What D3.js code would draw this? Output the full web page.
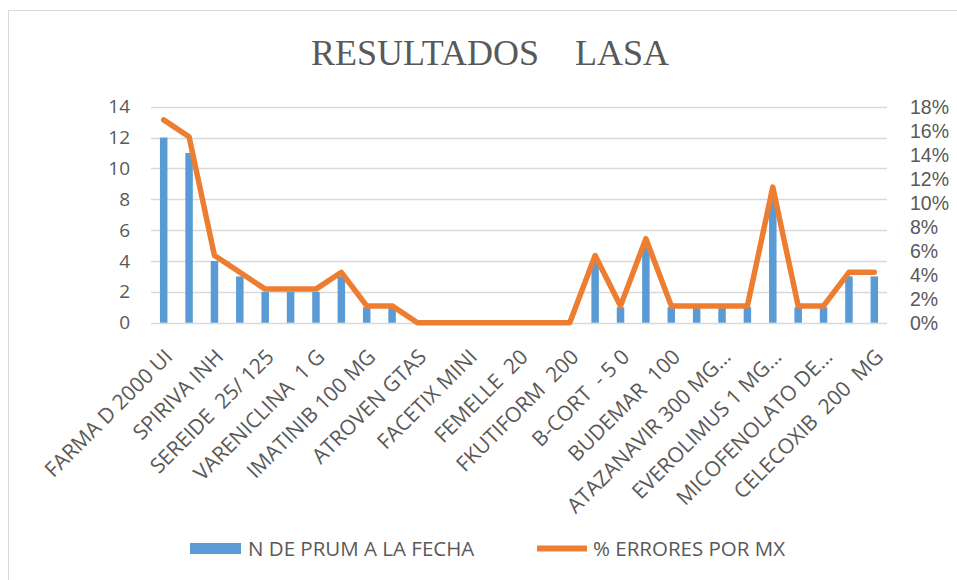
<!DOCTYPE html>
<html>
    <head>
        <title>Resultados LASA</title>
        <meta charset="UTF-8">
        <script type="text/javascript" src="https://cdn.jsdelivr.net/npm/d3@7"></script>
        <style type="text/css">
            body { margin: 0; background: #fff; }
            text { font-family: "Open Sans", sans-serif; fill: #595959; white-space: pre; }
        </style>
    </head>
    <body>
        <div id="chart"></div>

        <script type="text/javascript">

            var svgW = 957;
            var svgH = 580;

            // 29 medicines; only every other name is printed on the axis
            var tickLabels = ["FARMA D 2000 UI", "SPIRIVA INH", "SEREIDE  25/ 125", "VARENICLINA  1 G",
                "IMATINIB 100 MG", "ATROVEN GTAS", "FACETIX MINI", "FEMELLE  20", "FKUTIFORM  200",
                "B-CORT  - 5 0", "BUDEMAR  100", "ATAZANAVIR 300 MG…", "EVEROLIMUS 1 MG…",
                "MICOFENOLATO DE…", "CELECOXIB  200  MG"];

            // N DE PRUM A LA FECHA (left axis)
            var prumCount = [12, 11, 4, 3, 2, 2, 2, 3, 1, 1, 0, 0, 0, 0, 0, 0, 0,
                4, 1, 5, 1, 1, 1, 1, 8, 1, 1, 3, 3];

            // % ERRORES POR MX (right axis)
            var errorPct = [16.9, 15.5, 5.6, 4.2, 2.8, 2.8, 2.8, 4.2, 1.4, 1.4, 0, 0, 0, 0, 0, 0, 0,
                5.6, 1.4, 7.0, 1.4, 1.4, 1.4, 1.4, 11.3, 1.4, 1.4, 4.2, 4.2];

            var leftTicks = [0, 2, 4, 6, 8, 10, 12, 14];
            var rightTicks = [0, 2, 4, 6, 8, 10, 12, 14, 16, 18];

            var plotL = 151, plotR = 887, plotT = 106.7, plotB = 322.7;

            var svg = d3.select("#chart").append("svg")
                    .attr("width", svgW)
                    .attr("height", svgH);

            // chart frame (left and top edges visible)
            svg.append("path")
                    .attr("d", "M8.5," + svgH + "V10.5H" + svgW)
                    .attr("fill", "none")
                    .attr("stroke", "#d9d9d9")
                    .attr("stroke-width", 1);

            svg.append("text")
                    .attr("x", 490)
                    .attr("y", 65)
                    .attr("text-anchor", "middle")
                    .style("font-family", "'Liberation Serif', 'Times New Roman', serif")
                    .style("font-size", "36px")
                    .text("RESULTADOS    LASA");

            var x = d3.scaleBand()
                    .domain(d3.range(prumCount.length))
                    .range([plotL, plotR]);

            var yL = d3.scaleLinear().domain([0, 14]).range([plotB, plotT]);
            var yR = d3.scaleLinear().domain([0, 18]).range([plotB, plotT]);

            // gridlines
            svg.append("g").selectAll("line")
                    .data(leftTicks)
                    .enter()
                    .append("line")
                    .attr("x1", plotL)
                    .attr("x2", plotR)
                    .attr("y1", function (d) { return Math.round(yL(d)) + 0.5; })
                    .attr("y2", function (d) { return Math.round(yL(d)) + 0.5; })
                    .attr("stroke", "#d9d9d9")
                    .attr("stroke-width", 1.3);

            // left axis labels
            svg.append("g").selectAll("text")
                    .data(leftTicks)
                    .enter()
                    .append("text")
                    .attr("x", 130)
                    .attr("y", function (d) { return yL(d); })
                    .attr("dy", "0.35em")
                    .attr("text-anchor", "end")
                    .style("font-size", "19px")
                    .text(function (d) { return d; });

            // right axis labels (tight spacing, so a font with short line box)
            svg.append("g").selectAll("text")
                    .data(rightTicks)
                    .enter()
                    .append("text")
                    .attr("x", 910)
                    .attr("y", function (d) { return yR(d); })
                    .attr("dy", "0.36em")
                    .style("font-family", "'Liberation Sans', Arial, sans-serif")
                    .style("font-size", "19.5px")
                    .text(function (d) { return d + "%"; });

            // bars
            var barW = 7.5;
            svg.append("g").selectAll("rect")
                    .data(prumCount)
                    .enter()
                    .append("rect")
                    .attr("x", function (d, i) { return x(i) + x.bandwidth() / 2 - barW / 2; })
                    .attr("y", function (d) { return yL(d); })
                    .attr("width", barW)
                    .attr("height", function (d) { return plotB - yL(d); })
                    .attr("fill", "#5b9bd5");

            // line
            var line = d3.line()
                    .x(function (d, i) { return x(i) + x.bandwidth() / 2; })
                    .y(function (d) { return yR(d); });

            svg.append("path")
                    .datum(errorPct)
                    .attr("d", line)
                    .attr("fill", "none")
                    .attr("stroke", "#ed7d31")
                    .attr("stroke-width", 5.5)
                    .attr("stroke-linejoin", "round")
                    .attr("stroke-linecap", "round");

            // category labels, every other one
            svg.append("g").selectAll("text")
                    .data(tickLabels)
                    .enter()
                    .append("text")
                    .attr("transform", function (d, k) {
                        var cx = x(k * 2) + x.bandwidth() / 2;
                        return "translate(" + (cx - 1) + "," + 347 + ") rotate(-45)";
                    })
                    .attr("text-anchor", "end")
                    .attr("dy", "0.75em")
                    .style("font-size", "21px")
                    .text(function (d) { return d; });

            // legend
            var legend = svg.append("g");
            legend.append("rect")
                    .attr("x", 190)
                    .attr("y", 543)
                    .attr("width", 51)
                    .attr("height", 11)
                    .attr("fill", "#5b9bd5");
            legend.append("text")
                    .attr("x", 248)
                    .attr("y", 548.5)
                    .attr("dy", "0.35em")
                    .style("font-size", "20.5px")
                    .text("N DE PRUM A LA FECHA");
            legend.append("line")
                    .attr("x1", 537)
                    .attr("x2", 587)
                    .attr("y1", 548.5)
                    .attr("y2", 548.5)
                    .attr("stroke", "#ed7d31")
                    .attr("stroke-width", 6);
            legend.append("text")
                    .attr("x", 593)
                    .attr("y", 548.5)
                    .attr("dy", "0.35em")
                    .style("font-size", "20.5px")
                    .text("% ERRORES POR MX");
        </script>

    </body>
</html>
